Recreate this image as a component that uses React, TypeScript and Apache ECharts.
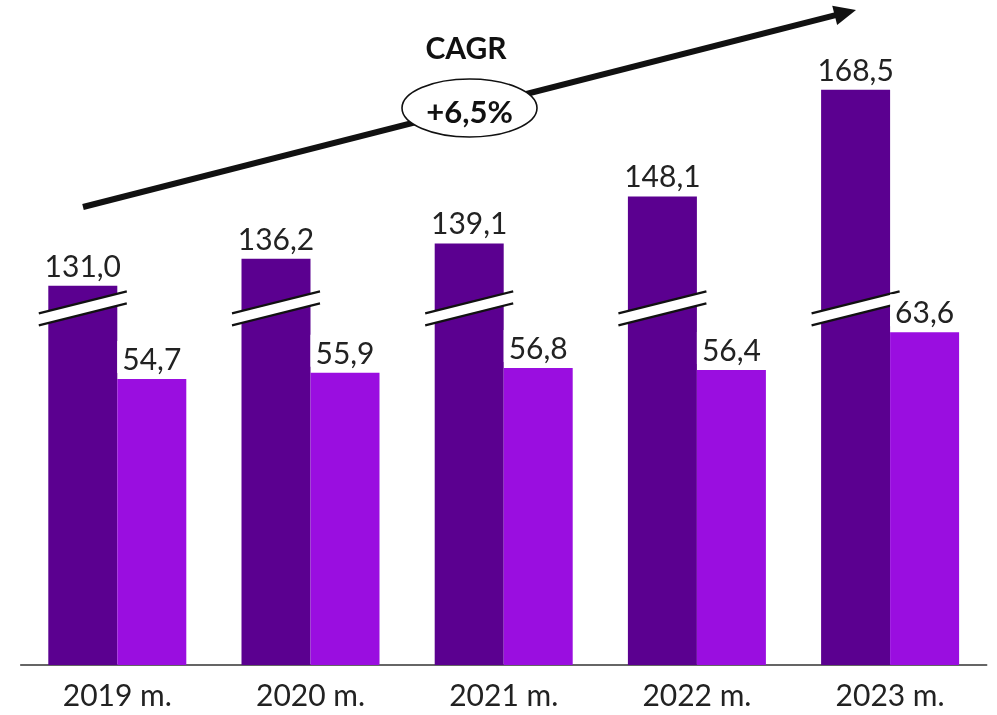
import React, { useEffect, useRef } from "react";
import * as echarts from "echarts";

const categories = ["2019 m.", "2020 m.", "2021 m.", "2022 m.", "2023 m."];
const totalValues = [131.0, 136.2, 139.1, 148.1, 168.5];
const partValues = [54.7, 55.9, 56.8, 56.4, 63.6];
// axis break: dark bars are drawn with this amount removed from their height
const BREAK_OFFSET = 58.5;
const BREAK_LEVEL = 68.2;
const breakMarks = categories.map((_, i) => [i, BREAK_LEVEL]);
const cagrTitle = "CAGR";
const cagrValue = "+6,5%";

const DARK = "#5B0090";
const LIGHT = "#9A0EE0";
const BAR_W = 69;
const FONT = "Lato, 'Noto Sans', sans-serif";

const fmt = (v: number) => v.toFixed(1).replace(".", ",");

export default function App() {
  const ref = useRef<HTMLDivElement>(null);
  useEffect(() => {
    if (!ref.current) return;
    const chart = echarts.init(ref.current, null, { renderer: "svg" });
    // arrow geometry
    const x1 = 83, y1 = 207, tx = 856, ty = 10;
    const dx = tx - x1, dy = ty - y1;
    const len = Math.sqrt(dx * dx + dy * dy);
    const ux = dx / len, uy = dy / len;
    const nx = -uy, ny = ux;
    const headL = 22, headW = 10;
    const bx = tx - headL * ux, by = ty - headL * uy;
    chart.setOption({
      animation: false,
      textStyle: { fontFamily: FONT },
      grid: { left: 20.7, right: 10.3, top: 37.4, bottom: 50 },
      xAxis: {
        type: "category",
        data: categories,
        axisTick: { show: false },
        axisLine: { lineStyle: { color: "#333", width: 1.5 } },
        axisLabel: { color: "#222", fontSize: 30, margin: 14, fontFamily: FONT },
      },
      yAxis: {
        type: "value",
        min: 0,
        max: 120,
        show: false,
        splitLine: { show: false },
      },
      series: [
        {
          type: "bar",
          name: "total",
          data: totalValues.map((v) => v - BREAK_OFFSET),
          barWidth: BAR_W,
          barGap: "0%",
          itemStyle: { color: DARK },
          z: 2,
          label: {
            show: true,
            position: "top",
            distance: 6,
            color: "#222",
            fontSize: 30,
            fontFamily: FONT,
            formatter: (p: any) => fmt(totalValues[p.dataIndex]),
          },
        },
        {
          type: "bar",
          name: "part",
          data: partValues,
          barWidth: BAR_W,
          barGap: "0%",
          itemStyle: { color: LIGHT },
          z: 4,
          label: {
            show: true,
            position: "top",
            distance: 6,
            color: "#222",
            fontSize: 30,
            fontFamily: FONT,
            backgroundColor: "#fff",
            padding: [2, 5, 0, 5],
            formatter: (p: any) => fmt(partValues[p.dataIndex]),
          },
        },
        {
          type: "custom",
          name: "break",
          z: 3,
          data: breakMarks,
          silent: true,
          renderItem: (params: any, api: any) => {
            const pt = api.coord([api.value(0), api.value(1)]);
            const cx = pt[0] - BAR_W / 2;
            const cy = pt[1];
            const half = 44;
            const rise = 11;
            const gap = 6;
            const uL = [cx - half, cy - gap + rise];
            const uR = [cx + half, cy - gap - rise];
            const lL = [cx - half, cy + gap + rise];
            const lR = [cx + half, cy + gap - rise];
            return {
              type: "group",
              children: [
                {
                  type: "polygon",
                  shape: { points: [uL, uR, lR, lL] },
                  style: { fill: "#fff" },
                },
                {
                  type: "line",
                  shape: { x1: uL[0], y1: uL[1], x2: uR[0], y2: uR[1] },
                  style: { stroke: "#111", lineWidth: 2.2 },
                },
                {
                  type: "line",
                  shape: { x1: lL[0], y1: lL[1], x2: lR[0], y2: lR[1] },
                  style: { stroke: "#111", lineWidth: 2.2 },
                },
              ],
            };
          },
        },
      ],
      graphic: [
        {
          type: "line",
          z: 10,
          shape: { x1, y1, x2: bx + ux * 2, y2: by + uy * 2 },
          style: { stroke: "#111", lineWidth: 6 },
        },
        {
          type: "polygon",
          z: 10,
          shape: {
            points: [
              [tx, ty],
              [bx + headW * nx, by + headW * ny],
              [bx - headW * nx, by - headW * ny],
            ],
          },
          style: { fill: "#111" },
        },
        {
          type: "ellipse",
          z: 11,
          shape: { cx: 469.5, cy: 108, rx: 67.5, ry: 29 },
          style: { fill: "#fff", stroke: "#111", lineWidth: 1.6 },
        },
        {
          type: "text",
          z: 12,
          x: 469.5,
          y: 111,
          style: {
            text: cagrValue,
            fontSize: 31,
            fontWeight: "bold",
            fontFamily: FONT,
            fill: "#111",
            align: "center",
            verticalAlign: "middle",
          },
        },
        {
          type: "text",
          z: 12,
          x: 466,
          y: 47,
          style: {
            text: cagrTitle,
            fontSize: 30,
            fontWeight: "bold",
            fontFamily: FONT,
            fill: "#111",
            align: "center",
            verticalAlign: "middle",
          },
        },
      ],
    });
    return () => chart.dispose();
  }, []);
  return (
    <div
      ref={ref}
      style={{ position: "fixed", left: 0, top: 0, width: 997, height: 715 }}
    />
  );
}
